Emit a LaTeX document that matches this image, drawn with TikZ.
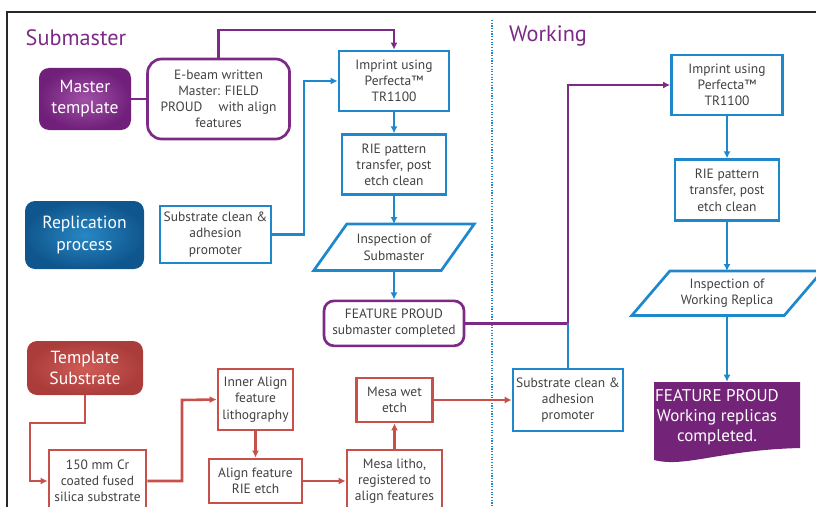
\documentclass[tikz,border=0pt]{standalone}
\usepackage{fontspec}
\setmainfont{PT Sans}
\usetikzlibrary{positioning, arrows.meta}

\definecolor{procblue}{RGB}{30,136,204}
\definecolor{subpurple}{RGB}{125,42,135}
\definecolor{subred}{RGB}{200,80,75}
\definecolor{txtgray}{RGB}{65,65,65}
\definecolor{framegray}{RGB}{40,40,40}
\definecolor{purplelight}{RGB}{160,80,165}
\definecolor{purpledark}{RGB}{112,32,122}
\definecolor{bluelight}{RGB}{40,135,195}
\definecolor{bluedark}{RGB}{16,86,142}
\definecolor{redlight}{RGB}{208,92,86}
\definecolor{reddark}{RGB}{170,60,58}
\definecolor{donepurple}{RGB}{115,35,120}

\begin{document}
\begin{tikzpicture}[
    x=0.03cm, y=-0.03cm,
    >={Latex[length=6pt,width=6pt]},
    boxsize/.style 2 args={
      minimum width=#1*0.03cm, minimum height=#2*0.03cm
    },
    txt/.style={
      align=center, inner sep=1pt, text=txtgray,
      font=\fontsize{11.5}{13.8}\selectfont
    },
    bluebox/.style={txt, draw=procblue, line width=2.3pt},
    redbox/.style={txt, draw=subred, line width=2.3pt},
    purplebox/.style={txt, draw=subpurple, line width=2.3pt, rounded corners=0.3cm},
    ghost/.style={txt},
    bigbox/.style={
      align=center, text=white, rounded corners=0.3cm,
      font=\fontsize{15}{18}\selectfont
    },
    heading/.style={text=subpurple, font=\fontsize{19}{22}\selectfont},
    blueline/.style={procblue, line width=2.2pt},
    redline/.style={subred, line width=2.2pt},
    purpleline/.style={subpurple, line width=2.2pt},
  ]
    \useasboundingbox (0,0) rectangle (816,507);

    % frame
    \draw[framegray, line width=1.3pt] (7,507) -- (7,12) -- (816,12);

    % headings
    \node[heading] (submaster_title) at (76,38) {Submaster};
    \node[heading] (working_title) at (548,36) {Working};

    % divider
    \draw[procblue, line width=1.2pt, dash pattern=on 1pt off 1.3pt] (492,20) -- (492,507);

    % left labels
    \node[bigbox, boxsize={92}{62}, inner color=purplelight, outer color=purpledark] (master_template) at (85,99) {Master\\template};
    \node[bigbox, boxsize={119}{68}, inner color=bluelight, outer color=bluedark] (replication) at (84.5,235) {Replication\\process};
    \node[bigbox, boxsize={116}{54}, inner color=redlight, outer color=reddark] (template_substrate) at (85,368) {Template\\Substrate};

    % submaster steps
    \node[purplebox, boxsize={142}{80}, rounded corners=0.42cm, right=0.45cm of master_template] (ebeam_master) {E-beam written\\Master: FIELD\\PROUD\hspace{1.2em}with align\\features};
    \node[bluebox, boxsize={110}{60}] (imprint_sub) at (394,81) {Imprint using\\Perfecta™\\TR1100};
    \node[bluebox, boxsize={104}{60}, below=0.63cm of imprint_sub] (rie_sub) {RIE pattern\\transfer, post\\etch clean};
    \node[ghost, boxsize={160}{46}, below=0.84cm of rie_sub] (inspect_sub) {Inspection of\\Submaster};
    \draw[procblue, line width=2.3pt] (inspect_sub.south west) -- ([xshift=0.99cm]inspect_sub.north west) -- (inspect_sub.north east) -- ([xshift=-0.99cm]inspect_sub.south east) -- cycle;
    \node[purplebox, boxsize={140}{45}, below=0.87cm of inspect_sub] (proud_sub) {FEATURE PROUD\\submaster completed};
    \node[bluebox, boxsize={111}{57}] (clean_sub) at (215.5,234.5) {Substrate clean \&\\adhesion\\promoter};

    % template steps
    \node[redbox, boxsize={97}{62}] (cr_blank) at (97.5,481) {150 mm Cr\\coated fused\\silica substrate};
    \node[redbox, boxsize={75}{61}] (inner_align) at (255.5,399.5) {Inner Align\\feature\\lithography};
    \node[redbox, boxsize={93}{44}] (align_rie) at (255.5,481) {Align feature\\RIE etch};
    \node[redbox, boxsize={95}{62}] (mesa_litho) at (394.5,481) {Mesa litho,\\registered to\\align features};
    \node[redbox, boxsize={76}{44}] (mesa_wet) at (394.5,400) {Mesa wet\\etch};

    % working steps
    \node[bluebox, boxsize={110}{62}] (clean_work) at (568,400) {Substrate clean \&\\adhesion\\promoter};
    \node[bluebox, boxsize={111}{60}] (imprint_work) at (727,85) {Imprint using\\Perfecta™\\TR1100};
    \node[bluebox, boxsize={104}{61}, below=1.26cm of imprint_work] (rie_work) {RIE pattern\\transfer, post\\etch clean};
    \node[ghost, boxsize={190}{44}, below=1.47cm of rie_work] (inspect_work) {Inspection of\\Working Replica};
    \draw[procblue, line width=2.3pt] (inspect_work.south west) -- ([xshift=1.14cm]inspect_work.north west) -- (inspect_work.north east) -- ([xshift=-1.14cm]inspect_work.south east) -- cycle;
    \fill[donepurple] (654,382) -- (800,382) -- (800,448) .. controls (720,450) and (685,468) .. (654,460) -- cycle;
    \node[txt, text=white, boxsize={120}{70}, font=\fontsize{14.5}{17}\selectfont] (proud_work) at (717,417) {FEATURE PROUD\\Working replicas\\completed.};

    % purple connectors
    \coordinate (top_bend) at (394,30);
    \draw[purpleline] (master_template) -- (ebeam_master);
    \draw[purpleline, ->] (ebeam_master.north) |- (top_bend) -- (imprint_sub.north);
    \draw[purpleline, ->] (proud_sub.east) -| (imprint_work.west -| clean_work.north) -- (imprint_work.west);

    % blue connectors
    \coordinate (feed_bend) at (304,81);
    \draw[blueline, ->] (clean_sub.east) -| (feed_bend) -- (imprint_sub.west);
    \draw[blueline, ->] (imprint_sub.south) -- (rie_sub.north);
    \draw[blueline, ->] (rie_sub.south) -- (inspect_sub.north);
    \draw[blueline, ->] (inspect_sub.south) -- (proud_sub.north);
    \draw[blueline] (clean_work.north) -- (clean_work.north |- proud_sub.east);
    \draw[blueline, ->] (imprint_work.south) -- (rie_work.north);
    \draw[blueline, ->] (rie_work.south) -- (inspect_work.north);
    \draw[blueline, ->] (inspect_work.south) -- (inspect_work.south |- proud_work.north);

    % red connectors
    \coordinate (base_bend) at (30,423);
    \coordinate (litho_bend) at (182,400);
    \draw[redline, ->] (template_substrate.south) |- (base_bend) |- (cr_blank.west);
    \draw[redline, ->] (cr_blank.east) -| (litho_bend) -- (inner_align.west);
    \draw[redline, ->] (inner_align.south) -- (align_rie.north);
    \draw[redline, ->] (align_rie.east) -- (mesa_litho.west);
    \draw[redline, ->] (mesa_litho.north) -- (mesa_wet.south);
    \draw[redline, ->] (mesa_wet.east) -- (clean_work.west);

  \end{tikzpicture}
\end{document}
